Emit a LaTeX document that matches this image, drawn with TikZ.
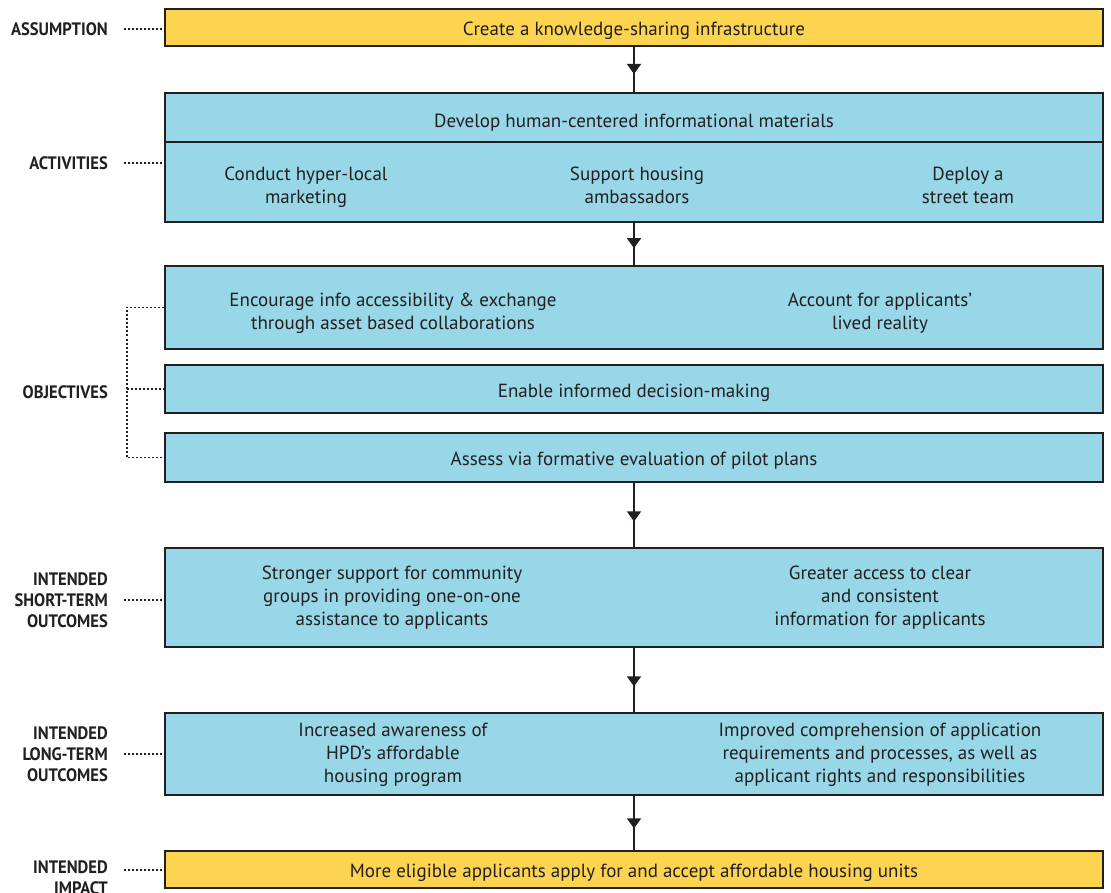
\documentclass[tikz,border=0pt]{standalone}
\usepackage{fontspec}
\setmainfont{PT Sans}
\newfontfamily\lblfont[FakeStretch=0.92]{PT Sans}
\usepackage{tikz}
\usetikzlibrary{positioning, arrows.meta, decorations.markings}
\definecolor{boxyellow}{HTML}{FDD44F}
\definecolor{boxblue}{HTML}{97D7E7}
\definecolor{edge}{HTML}{231F20}

\begin{document}
\begin{tikzpicture}[x=1pt, y=-1pt,
  box/.style={draw=edge, line width=2pt, rectangle, minimum width=938pt, inner sep=0pt, text=edge,
    text height=16pt, text depth=0pt, font=\fontsize{19}{23}\selectfont},
  yellowbox/.style={box, fill=boxyellow},
  bluebox/.style={box, fill=boxblue},
  txt/.style={align=center, text=edge, inner sep=0pt, font=\fontsize{19}{23}\selectfont},
  lbl/.style={align=right, anchor=east, inner sep=0pt, text=edge, font=\lblfont\bfseries\fontsize{18}{21}\selectfont},
  dotline/.style={draw=edge, line width=1.5pt, dash pattern=on 2pt off 2pt},
  flow/.style={draw=edge, line width=1.5pt, postaction={decorate},
    decoration={markings, mark=at position 0.6 with {\arrow{Triangle[width=14pt,length=10pt]}}}}]
  \path[use as bounding box, fill=white] (0,0) rectangle (1111,893);

  % boxes
  \node (assume) [yellowbox, minimum height=37pt] at (634,27.5) {Create a knowledge-sharing infrastructure};
  \node (actTop) [bluebox, minimum height=49pt, text height=21pt] at (634,117.5) {Develop human-centered informational materials};
  \node (actBot) [bluebox, minimum height=80pt] at (634,182) {};
  \node (obj1) [bluebox, minimum height=83pt] at (634,307.5) {};
  \node (obj2) [bluebox, minimum height=48pt] at (634,389) {Enable informed decision-making};
  \node (obj3) [bluebox, minimum height=49pt] at (634,457.5) {Assess via formative evaluation of pilot plans};
  \node (short) [bluebox, minimum height=99pt] at (634,597.5) {};
  \node (long) [bluebox, minimum height=82pt] at (634,754) {};
  \node (impact) [yellowbox, minimum height=37pt] at (634,869.5) {More eligible applicants apply for and accept affordable housing units};

  % texts inside the boxes
  \node (actA) [txt] at (306,187) {Conduct hyper-local\\marketing};
  \node (actB) [txt] at (637,185.5) {Support housing\\ambassadors};
  \node (actC) [txt] at (968,185.5) {Deploy a\\street team};
  \node (objA) [txt] at (393,313) {Encourage info accessibility \& exchange\\through asset based collaborations};
  \node (objB) [txt] at (880,313) {Account for applicants’\\lived reality};
  \node (shortA) [txt] at (392,598) {Stronger support for community\\groups in providing one-on-one\\assistance to applicants};
  \node (shortB) [txt] at (880,598) {Greater access to clear\\and consistent\\information for applicants};
  \node (longA) [txt] at (393,755) {Increased awareness of\\HPD’s affordable\\housing program};
  \node (longB) [txt] at (880,755) {Improved comprehension of application\\requirements and processes, as well as\\applicant rights and responsibilities};

  % labels
  \node (lblAssume) [lbl] at (108,29) {ASSUMPTION};
  \node (lblAct) [lbl] at (108,163) {ACTIVITIES};
  \node (lblObj) [lbl] at (108,392) {OBJECTIVES};
  \node (lblShort) [lbl] at (108,600) {INTENDED\\SHORT-TERM\\OUTCOMES};
  \node (lblLong) [lbl] at (108,754) {INTENDED\\LONG-TERM\\OUTCOMES};
  \node (lblImpact) [lbl, anchor=north east] at (108,861) {INTENDED\\IMPACT};
  \coordinate (impDot) at (124,870);
  \coordinate (objBrk) at (127,389);

  % flow arrows
  \draw[flow] (assume) -- (actTop);
  \draw[flow] (actBot) -- (obj1);
  \draw[flow] (obj3) -- (short);
  \draw[flow] (short) -- (long);
  \draw[flow] (long) -- (impact);

  % dotted leaders
  \draw[dotline, shorten <=16pt] (lblAssume.east) -- (lblAssume.east -| assume.west);
  \draw[dotline, shorten <=16pt] (lblAct.east) -- (lblAct.east -| actBot.west);
  \draw[dotline, shorten <=16pt] (lblShort.east) -- (lblShort.east -| short.west);
  \draw[dotline, shorten <=16pt] (lblLong.east) -- (lblLong.east -| long.west);
  \draw[dotline] (impDot) -- (impDot -| impact.west);
  \draw[dotline] (obj1.west) -| (objBrk) |- (obj3.west);
  \draw[dotline] (objBrk) -- (obj2.west);
\end{tikzpicture}
\end{document}
